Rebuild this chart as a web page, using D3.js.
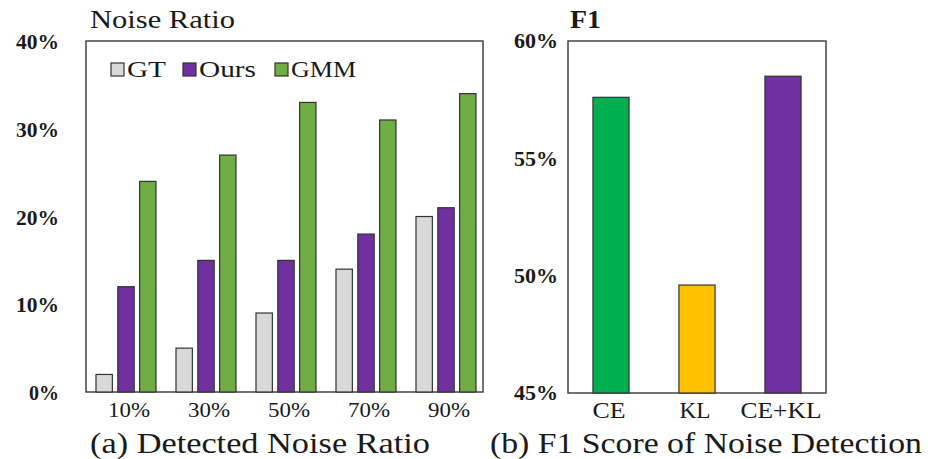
<!DOCTYPE html>
<html>
<head>
<meta charset="utf-8">
<script src="https://cdn.jsdelivr.net/npm/d3@7"></script>
<style>
  body { margin: 0; background: #fff; }
  svg { display: block; }
  text { font-family: "Liberation Serif", "DejaVu Serif", serif; fill: #1a1a1a; }
</style>
</head>
<body>
<svg id="chart" width="939" height="459"></svg>
<script>
// ---- Data ----
const noiseLevels = ["10%", "30%", "50%", "70%", "90%"];
const seriesNames = ["GT", "Ours", "GMM"];
const gtValues   = [2, 5, 9, 14, 20];
const oursValues = [12, 15, 15, 18, 21];
const gmmValues  = [24, 27, 33, 31, 34];
const leftTicks  = [0, 10, 20, 30, 40];

const methods   = ["CE", "KL", "CE+KL"];
const f1Values  = [57.6, 49.6, 58.5];
const rightTicks = [45, 50, 55, 60];

const seriesColors = ["#d9d9d9", "#7030a0", "#70ad47"];
const methodColors = ["#00b050", "#ffc000", "#7030a0"];

const svg = d3.select("#chart");
const frameColor = "#444";

// ---- Left chart ----
const L = { x0: 86, x1: 483, y0: 41, y1: 392 };
const xL = d3.scaleBand().domain(noiseLevels).range([L.x0, L.x0 + 400]).paddingInner(0.25).paddingOuter(0.125);
const xSub = d3.scaleBand().domain(seriesNames).range([0, xL.bandwidth()]).paddingInner(0.25);
const yL = d3.scaleLinear().domain([0, 40]).range([L.y1, L.y0]);

const gL = svg.append("g");
gL.append("rect").attr("x", L.x0).attr("y", L.y0).attr("width", L.x1 - L.x0).attr("height", L.y1 - L.y0)
  .attr("fill", "none").attr("stroke", frameColor).attr("stroke-width", 1.5);

const seriesData = [gtValues, oursValues, gmmValues];
seriesNames.forEach((s, si) => {
  gL.selectAll(null).data(seriesData[si]).enter().append("rect")
    .attr("x", (d, i) => xL(noiseLevels[i]) + xSub(s))
    .attr("y", d => yL(d))
    .attr("width", xSub.bandwidth())
    .attr("height", d => yL(0) - yL(d))
    .attr("fill", seriesColors[si])
    .attr("stroke", "#333").attr("stroke-width", 1.2);
});

// y axis labels
const yAxisL = d3.axisLeft(yL).tickValues(leftTicks).tickSize(0).tickFormat(d => d + "%");
const yaL = gL.append("g").attr("transform", `translate(${L.x0 - 24},1)`).call(yAxisL);
yaL.select(".domain").remove();
yaL.selectAll("text").attr("font-family", "Liberation Serif").attr("font-size", 21).attr("font-weight", "bold")
  .attr("textLength", d => d === 0 ? 30 : 43).attr("lengthAdjust", "spacingAndGlyphs").attr("fill", "#2a2a2a");

// x axis labels
const xAxisL = d3.axisBottom(xL).tickSize(0);
const xaL = gL.append("g").attr("transform", `translate(3,${L.y1})`).call(xAxisL);
xaL.select(".domain").remove();
xaL.selectAll("text").attr("font-family", "Liberation Serif").attr("font-size", 22)
  .attr("textLength", 42).attr("lengthAdjust", "spacingAndGlyphs")
  .attr("dy", "1.0em").attr("fill", "#222");

// title
gL.append("text").attr("x", 90).attr("y", 28).attr("font-size", 26)
  .attr("textLength", 145).attr("lengthAdjust", "spacingAndGlyphs").text("Noise Ratio");

// legend
const legX = [111, 183, 275];
const legW = [39, 57, 65];
seriesNames.forEach((s, si) => {
  gL.append("rect").attr("x", legX[si]).attr("y", 63).attr("width", 13).attr("height", 13)
    .attr("fill", seriesColors[si]).attr("stroke", "#333").attr("stroke-width", 1.2);
  gL.append("text").attr("x", legX[si] + 16).attr("y", 77).attr("font-size", 24)
    .attr("textLength", legW[si]).attr("lengthAdjust", "spacingAndGlyphs").text(s);
});

// caption
gL.append("text").attr("x", 90).attr("y", 453).attr("font-size", 30)
  .attr("textLength", 340).attr("lengthAdjust", "spacingAndGlyphs").text("(a) Detected Noise Ratio");

// ---- Right chart ----
const R = { x0: 568, x1: 826, y0: 41, y1: 393 };
const xR = d3.scaleBand().domain(methods).range([R.x0, R.x1]).paddingInner(0.58).paddingOuter(0.29);
const yR = d3.scaleLinear().domain([45, 60]).range([R.y1, R.y0]);

const gR = svg.append("g");
gR.append("rect").attr("x", R.x0).attr("y", R.y0).attr("width", R.x1 - R.x0).attr("height", R.y1 - R.y0)
  .attr("fill", "none").attr("stroke", frameColor).attr("stroke-width", 1.5);

gR.selectAll(null).data(f1Values).enter().append("rect")
  .attr("x", (d, i) => xR(methods[i]))
  .attr("y", d => yR(d))
  .attr("width", xR.bandwidth())
  .attr("height", d => yR(45) - yR(d))
  .attr("fill", (d, i) => methodColors[i])
  .attr("stroke", "#333").attr("stroke-width", 1.2);

const yAxisR = d3.axisLeft(yR).tickValues(rightTicks).tickSize(0).tickFormat(d => d + "%");
const yaR = gR.append("g").attr("transform", `translate(${R.x0 - 7},0)`).call(yAxisR);
yaR.select(".domain").remove();
yaR.selectAll("text").attr("font-family", "Liberation Serif").attr("font-size", 21).attr("font-weight", "bold")
  .attr("textLength", 44).attr("lengthAdjust", "spacingAndGlyphs").attr("fill", "#2a2a2a");

const rightLabelW = { "CE": 33, "KL": 31, "CE+KL": 81 };
const xAxisR = d3.axisBottom(xR).tickSize(0);
const xaR = gR.append("g").attr("transform", `translate(-2,${R.y1})`).call(xAxisR);
xaR.select(".domain").remove();
xaR.selectAll("text").attr("font-family", "Liberation Serif").attr("font-size", 23)
  .attr("textLength", d => rightLabelW[d]).attr("lengthAdjust", "spacingAndGlyphs")
  .attr("dy", "0.95em").attr("fill", "#222");

gR.append("text").attr("x", 570).attr("y", 28).attr("font-size", 26).attr("font-weight", "bold")
  .attr("textLength", 31).attr("lengthAdjust", "spacingAndGlyphs").text("F1");

gR.append("text").attr("x", 490).attr("y", 453).attr("font-size", 30)
  .attr("textLength", 432).attr("lengthAdjust", "spacingAndGlyphs").text("(b) F1 Score of Noise Detection");
</script>
</body>
</html>
